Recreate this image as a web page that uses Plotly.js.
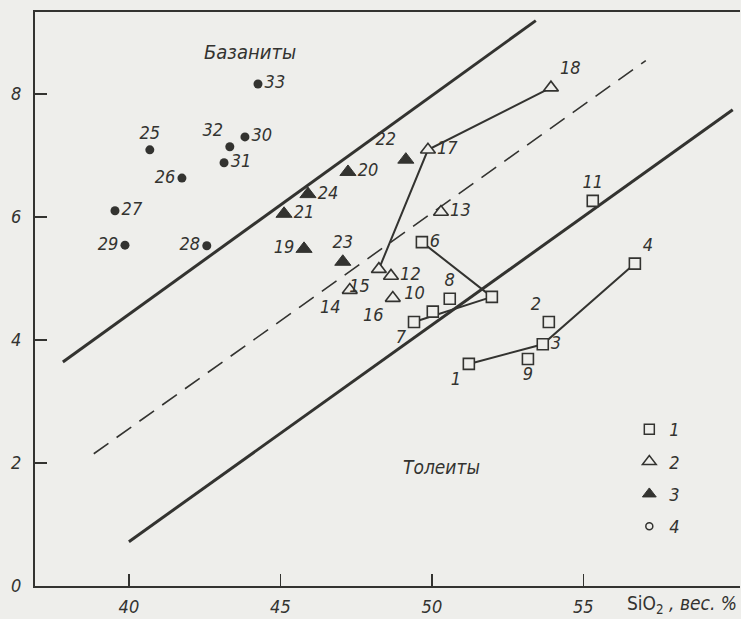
<!DOCTYPE html>
<html>
<head>
<meta charset="utf-8">
<script src="https://cdn.plot.ly/plotly-3.0.1.min.js"></script>
<style>
html,body{margin:0;padding:0;background:#eeeeeb;}
#chart{width:741px;height:619px;}
</style>
</head>
<body>
<div id="chart"></div>
<script>
// ---- data ----
// group 1: open squares
const sqIds = [1, 2, 3, 4, 5, 6, 7, 8, 9, 10, 11];
const sqText = ['1', '2', '3', '4', '', '6', '7', '8', '9', '10', '11'];
const sqX = [51.22, 53.86, 53.66, 56.70, 51.98, 49.67, 49.41, 50.59, 53.17, 50.03, 55.31];
const sqY = [3.61, 4.29, 3.93, 5.24, 4.70, 5.59, 4.29, 4.67, 3.69, 4.46, 6.26];
// group 2: open triangles
const otIds = [12, 13, 14, 15, 16, 17, 18];
const otX = [48.65, 50.30, 47.29, 48.25, 48.71, 49.87, 53.93];
const otY = [5.04, 6.08, 4.81, 5.15, 4.68, 7.09, 8.10];
// group 3: filled triangles
const ftIds = [19, 20, 21, 22, 23, 24];
const ftX = [45.78, 47.23, 45.12, 49.14, 47.06, 45.91];
const ftY = [5.48, 6.73, 6.05, 6.93, 5.27, 6.37];
// group 4: dots
const dtIds = [25, 26, 27, 28, 29, 30, 31, 32, 33];
const dtX = [40.69, 41.75, 39.54, 42.57, 39.87, 43.83, 43.14, 43.33, 44.26];
const dtY = [7.09, 6.63, 6.10, 5.53, 5.54, 7.30, 6.88, 7.14, 8.16];
// connected sample paths (by sample number)
const paths = [[6, 5, 7], [1, 3, 4], [18, 17, 15]];
// boundary lines
const upperLineX = [37.82, 53.43];
const upperLineY = [3.64, 9.19];
const dashLineX = [38.84, 57.06];
const dashLineY = [2.15, 8.54];
const lowerLineX = [40.0, 59.93];
const lowerLineY = [0.72, 7.74];
const legendNames = ['1', '2', '3', '4'];
const xTicks = [40, 45, 50, 55];
const yTicks = [0, 2, 4, 6, 8];

// ---- label placement (style) ----
const sqPos = ['bottom left', 'top left', 'middle right', 'top right', 'middle right', 'middle right', 'bottom left', 'top center', 'bottom center', 'top left', 'top center'];
const otPos = ['middle right', 'middle right', 'bottom left', 'bottom left', 'bottom left', 'middle right', 'top right'];
const ftPos = ['middle left', 'middle right', 'middle right', 'top left', 'top center', 'middle right'];
const dtPos = ['top center', 'middle left', 'middle right', 'middle left', 'middle left', 'middle right', 'middle right', 'top left', 'middle right'];

const ink = '#333330';
const FONT = 'DejaVu Sans Condensed, DejaVu Sans, sans-serif';
const labelFont = {family: FONT, size: 18, color: ink, style: 'italic'};

// lookup of all points by id
const allPts = {};
[[sqIds, sqX, sqY], [otIds, otX, otY], [ftIds, ftX, ftY], [dtIds, dtX, dtY]].forEach(([ids, xs, ys]) => {
  ids.forEach((id, i) => { allPts[id] = [xs[i], ys[i]]; });
});

const traces = [];
// boundary lines
traces.push({x: upperLineX, y: upperLineY, mode: 'lines', line: {color: ink, width: 3}, showlegend: false, hoverinfo: 'skip'});
traces.push({x: lowerLineX, y: lowerLineY, mode: 'lines', line: {color: ink, width: 3}, showlegend: false, hoverinfo: 'skip'});
traces.push({x: dashLineX, y: dashLineY, mode: 'lines', line: {color: ink, width: 1.6, dash: '18px,10px'}, showlegend: false, hoverinfo: 'skip'});
// paths
paths.forEach(p => {
  traces.push({x: p.map(id => allPts[id][0]), y: p.map(id => allPts[id][1]), mode: 'lines',
    line: {color: ink, width: 2}, showlegend: false, hoverinfo: 'skip'});
});
// points
traces.push({x: sqX, y: sqY, text: sqText, textposition: sqPos, mode: 'markers+text', textfont: labelFont,
  marker: {symbol: 'square', size: 11, color: '#eeeeeb', line: {color: ink, width: 1.6}}, showlegend: false});
traces.push({x: otX, y: otY, text: otIds.map(String), textposition: otPos, mode: 'markers+text', textfont: labelFont,
  marker: {symbol: 'triangle-up', size: 13, color: '#eeeeeb', line: {color: ink, width: 1.6}}, showlegend: false});
traces.push({x: ftX, y: ftY, text: ftIds.map(String), textposition: ftPos, mode: 'markers+text', textfont: labelFont,
  marker: {symbol: 'triangle-up', size: 14, color: ink, line: {color: ink, width: 1}}, showlegend: false});
traces.push({x: dtX, y: dtY, text: dtIds.map(String), textposition: dtPos, mode: 'markers+text', textfont: labelFont,
  marker: {symbol: 'circle', size: 9, color: ink}, showlegend: false});
// legend entries
const legMarkers = [
  {symbol: 'square', size: 10, color: '#eeeeeb', line: {color: ink, width: 1.5}},
  {symbol: 'triangle-up', size: 12, color: '#eeeeeb', line: {color: ink, width: 1.5}},
  {symbol: 'triangle-up', size: 12, color: ink, line: {color: ink, width: 1}},
  {symbol: 'circle', size: 7, color: '#eeeeeb', line: {color: ink, width: 1.5}}
];
legendNames.forEach((n, i) => {
  traces.push({x: [null], y: [null], mode: 'markers', name: n, marker: legMarkers[i], legendgroup: 'g' + i, showlegend: true});
});

const layout = {
  width: 741, height: 619,
  margin: {l: 35, r: 1, t: 12, b: 33},
  paper_bgcolor: '#eeeeeb', plot_bgcolor: '#eeeeeb',
  font: {family: FONT, color: ink, size: 17, style: 'italic'},
  xaxis: {range: [36.9, 60.17], tickvals: xTicks, ticktext: xTicks.map(String), ticks: 'inside', ticklen: 12, tickwidth: 1.5, tickcolor: ink,
    showline: true, linecolor: ink, linewidth: 2, mirror: true, showgrid: false, zeroline: false,
    tickfont: {family: FONT, size: 18, color: ink, style: 'italic'}, ticklabelstandoff: 3},
  yaxis: {range: [0, 9.33], tickvals: yTicks, ticktext: yTicks.map(String), ticks: 'inside', ticklen: 12, tickwidth: 1.5, tickcolor: ink,
    showline: true, linecolor: ink, linewidth: 2, showgrid: false, zeroline: false,
    tickfont: {family: FONT, size: 18, color: ink, style: 'italic'}, ticklabelstandoff: 8},
  legend: {x: 0.843, y: 0.305, xanchor: 'left', yanchor: 'top', bgcolor: 'rgba(0,0,0,0)', traceorder: 'grouped', tracegroupgap: 6,
    font: {family: FONT, size: 18, color: ink, style: 'italic'}},
  annotations: [
    {x: 44.0, y: 8.68, xref: 'x', yref: 'y', text: 'Базаниты', showarrow: false, font: {family: FONT, size: 20, color: ink, style: 'italic'}},
    {x: 50.33, y: 1.94, xref: 'x', yref: 'y', text: 'Толеиты', showarrow: false, font: {family: FONT, size: 19, color: ink, style: 'italic'}},
    {x: 0.998, y: -0.033, xref: 'paper', yref: 'paper', xanchor: 'right', yanchor: 'middle',
      text: '<span style="font-style:normal">SiO<sub>2</sub></span> , вес. %', showarrow: false,
      font: {family: FONT, size: 19, color: ink, style: 'italic'}}
  ],
  showlegend: true
};

Plotly.newPlot('chart', traces, layout, {displayModeBar: false, staticPlot: true});
</script>
</body>
</html>
